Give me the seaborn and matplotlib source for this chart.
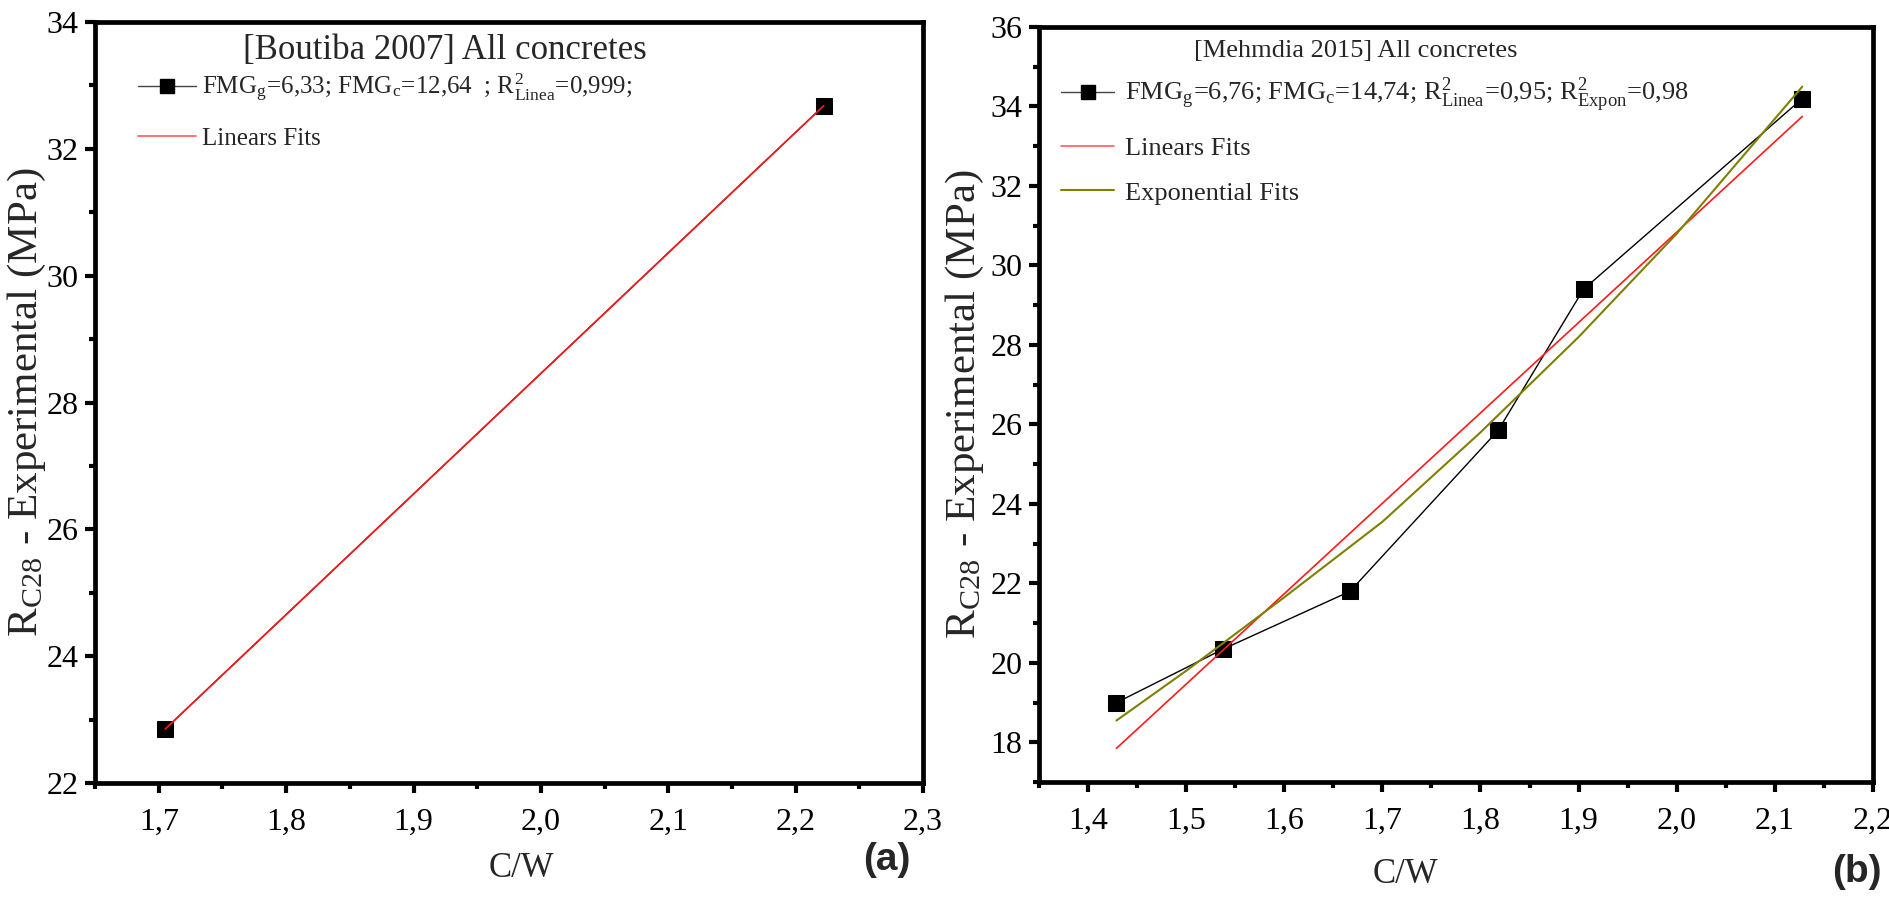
import numpy as np
import pandas as pd
import matplotlib
matplotlib.use("Agg")
import matplotlib.pyplot as plt
from matplotlib.lines import Line2D
from matplotlib.ticker import FuncFormatter, MultipleLocator
import seaborn as sns

# ---------------- data ----------------
a_cw = [1.705, 2.222]
a_rc28 = [22.85, 32.68]
a_fit_cw = [1.705, 2.222]
a_fit_rc28 = [22.85, 32.68]

b_cw = [1.429, 1.538, 1.667, 1.818, 1.905, 2.128]
b_rc28 = [19.0, 20.35, 21.8, 25.85, 29.4, 34.2]
b_lin_cw = [1.429, 2.128]
b_lin_rc28 = [17.85, 33.75]
b_exp_cw = [1.429, 1.5, 1.6, 1.7, 1.8, 1.9, 2.0, 2.128]
b_exp_rc28 = [18.55, 19.8, 21.65, 23.55, 25.8, 28.2, 30.8, 34.5]

a_title = "[Boutiba 2007] All concretes"
b_title = "[Mehmdia 2015] All concretes"
a_label_data = r"FMG$_\mathregular{g}$=6,33; FMG$_\mathregular{c}$=12,64  ; R$^\mathregular{2}_\mathregular{Linea}$=0,999;"
b_label_data = (r"FMG$_\mathregular{g}$=6,76; FMG$_\mathregular{c}$=14,74; R$^\mathregular{2}_\mathregular{Linea}$=0,95; "
                r"R$^\mathregular{2}_\mathregular{Expon}$=0,98")
lin_label = "Linears Fits"
exp_label = "Exponential Fits"
x_label = "C/W"
y_label = r"R$_\mathregular{C28}$ - Experimental (MPa)"

# ---------------- style ----------------
sns.set_style("ticks")
plt.rcParams["font.family"] = ["Liberation Serif", "DejaVu Serif"]
plt.rcParams["mathtext.fontset"] = "stix"

fig = plt.figure(figsize=(18.9, 8.99), dpi=100)
axa = fig.add_axes([0.0503, 0.129, 0.4381, 0.8465])
axb = fig.add_axes([0.5497, 0.130, 0.4413, 0.8400])

comma = FuncFormatter(lambda v, p: f"{v:.1f}".replace(".", ","))
intfmt = FuncFormatter(lambda v, p: f"{v:.0f}")

RED = "#ff1a1a"
OLIVE = "#7f8000"

# panel a
dfa = pd.DataFrame({"cw": a_cw, "rc": a_rc28})
dfa_fit = pd.DataFrame({"cw": a_fit_cw, "rc": a_fit_rc28})
sns.lineplot(data=dfa, x="cw", y="rc", ax=axa, color="black", lw=1.0,
             marker="s", markersize=11, markeredgecolor="black", sort=False)
sns.lineplot(data=dfa_fit, x="cw", y="rc", ax=axa, color=RED, lw=1.2, sort=False)

# panel b
dfb = pd.DataFrame({"cw": b_cw, "rc": b_rc28})
dfb_lin = pd.DataFrame({"cw": b_lin_cw, "rc": b_lin_rc28})
dfb_exp = pd.DataFrame({"cw": b_exp_cw, "rc": b_exp_rc28})
sns.lineplot(data=dfb, x="cw", y="rc", ax=axb, color="black", lw=1.0,
             marker="s", markersize=11, markeredgecolor="black", sort=False)
sns.lineplot(data=dfb_lin, x="cw", y="rc", ax=axb, color=RED, lw=1.2, sort=False)
sns.lineplot(data=dfb_exp, x="cw", y="rc", ax=axb, color=OLIVE, lw=1.5, sort=False)

axa.set_xlim(1.65, 2.3)
axa.set_ylim(22, 34)
axb.set_xlim(1.35, 2.2)
axb.set_ylim(17, 36)

for ax in (axa, axb):
    ax.xaxis.set_major_locator(MultipleLocator(0.1))
    ax.xaxis.set_minor_locator(MultipleLocator(0.05))
    ax.yaxis.set_major_locator(MultipleLocator(2))
    ax.yaxis.set_minor_locator(MultipleLocator(1))
    ax.xaxis.set_major_formatter(comma)
    ax.yaxis.set_major_formatter(intfmt)
    for s in ax.spines.values():
        s.set_linewidth(3.4)
        s.set_color("black")
    ax.tick_params(which="major", direction="out", length=7, width=3, labelsize=23,
                   colors="black")
    ax.tick_params(which="minor", direction="out", length=4, width=3, colors="black")
    ax.tick_params(axis="x", which="major", pad=11)
    ax.tick_params(axis="y", which="major", pad=5)
    ax.set_xlabel(x_label, fontsize=25)
    ax.set_ylabel(y_label, fontsize=31)
    ax.grid(False)

axa.xaxis.set_label_coords(0.515, -0.09)
axb.xaxis.set_label_coords(0.44, -0.10)
axa.yaxis.set_label_coords(-0.057, 0.5)
axb.yaxis.set_label_coords(-0.064, 0.5)

# titles inside the panels
axa.text(0.423, 0.963, a_title, transform=axa.transAxes, ha="center", va="center", fontsize=25)
axb.text(0.38, 0.968, b_title, transform=axb.transAxes, ha="center", va="center", fontsize=19)

# legends
h_data = Line2D([], [], color="#444444", lw=1.0, marker="s", markersize=10,
                markerfacecolor="black", markeredgecolor="black")
h_lin = Line2D([], [], color="#ff5a5a", lw=1.2)
h_exp = Line2D([], [], color=OLIVE, lw=1.5)

axa.legend([h_data, h_lin], [a_label_data, lin_label], loc="upper left",
           bbox_to_anchor=(0.052, 0.935), frameon=False, fontsize=18,
           handlelength=2.3, handletextpad=0.25, labelspacing=0.95, borderpad=0,
           borderaxespad=0)
axb.legend([h_data, h_lin, h_exp], [b_label_data, lin_label, exp_label], loc="upper left",
           bbox_to_anchor=(0.027, 0.935), frameon=False, fontsize=19,
           handlelength=2.0, handletextpad=0.4, labelspacing=0.8, borderpad=0,
           borderaxespad=0)

# panel tags
fig.text(887 / 1890, 1 - 860 / 899, "(a)", fontsize=28, fontweight="bold",
         family="Liberation Sans", ha="center", va="center")
fig.text(1857 / 1890, 1 - 872 / 899, "(b)", fontsize=28, fontweight="bold",
         family="Liberation Sans", ha="center", va="center")

fig.savefig("out.png", dpi=100)
